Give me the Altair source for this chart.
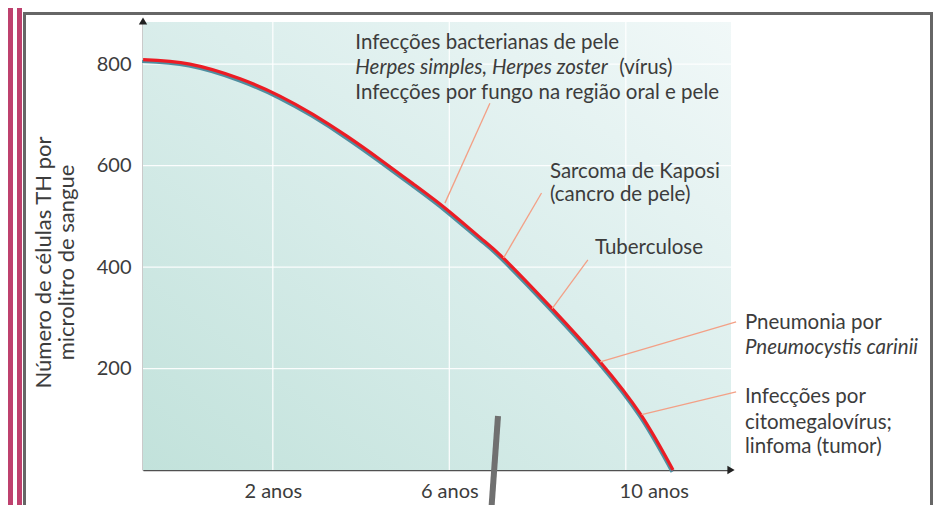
import altair as alt
import pandas as pd

# ---------------- data ----------------
years = [-0.94, 0.12, 1.26, 2.16, 2.91, 3.68, 4.43, 5.18, 5.95, 6.70, 7.22, 8.33, 9.42, 10.34, 11.07]
cells = [809, 800, 771, 737, 701, 658, 612, 564, 513, 458, 418, 318, 213, 109, 0]

x_ticks = [2, 6, 10]
y_ticks = [200, 400, 600, 800]
x_domain = [-0.942, 12.384]
y_domain = [0, 883]

# leader lines (start on curve, end near label)
leader_id = ["bact", "bact", "kap", "kap", "tb", "tb", "pcp", "pcp", "cmv", "cmv"]
leader_x = [5.90, 6.92, 7.23, 8.09, 8.33, 9.14, 9.42, 12.50, 10.36, 12.50]
leader_y = [526, 723, 418, 546, 318, 414, 213, 292, 109, 154]

label_text = [
    "Infecções bacterianas de pele",
    "Herpes simples, Herpes zoster",
    "(vírus)",
    "Infecções por fungo na região oral e pele",
    "Sarcoma de Kaposi",
    "(cancro de pele)",
    "Tuberculose",
    "Pneumonia por",
    "Pneumocystis carinii",
    "Infecções por",
    "citomegalovírus;",
    "linfoma (tumor)",
]
label_x = [3.87, 3.87, 9.85, 3.87, 8.28, 8.28, 9.30, 12.70, 12.70, 12.70, 12.70, 12.70]
label_y = [841, 792, 792, 743, 587, 542, 437, 290, 240, 144, 93, 45]
label_italic = [False, True, False, False, False, False, False, False, True, False, False, False]

y_title = ["Número de células TH por", "microlitro de sangue"]

# ---------------- styling ----------------
FONT = "Lato"
TXT = "#3c3c3c"
AXIS = "#505050"
RED = "#ec1c24"
SHADOW = "#4f8ea0"
LEADER = "#f3a086"
PINK = "#be416e"
FRAME = "#666666"

curve = pd.DataFrame({"x": years, "y": cells})
leaders = pd.DataFrame({"id": leader_id, "x": leader_x, "y": leader_y})
labels = pd.DataFrame({"x": label_x, "y": label_y, "text": label_text, "italic": label_italic})
xgrid = pd.DataFrame({"x": x_ticks})
ygrid = pd.DataFrame({"y": y_ticks})
one = pd.DataFrame({"a": [0]})

xscale = alt.Scale(domain=x_domain, nice=False, zero=False)
yscale = alt.Scale(domain=y_domain, nice=False, zero=False)

xaxis = alt.Axis(
    values=x_ticks, labelExpr="datum.value + ' anos'", title=None, grid=False, ticks=False,
    domainColor=AXIS, domainWidth=1.6, labelFont=FONT, labelFontSize=20, labelColor=TXT,
    labelPadding=11,
    labelOffset={"condition": {"test": "datum.value == 10", "value": 28}, "value": 0},
)
yaxis = alt.Axis(
    values=y_ticks, title=y_title, grid=False, ticks=False,
    domainColor=AXIS, domainWidth=1.6, labelFont=FONT, labelFontSize=20, labelColor=TXT,
    labelPadding=12, titleFont=FONT, titleFontSize=22, titleFontWeight="normal",
    titleColor=TXT, titleAngle=270, titleX=-100, titleY=240, titleAlign="center",
    titleBaseline="middle", titleLineHeight=23,
)

X = alt.X("x:Q", scale=xscale, axis=xaxis)
Y = alt.Y("y:Q", scale=yscale, axis=yaxis)

gradient = {
    "gradient": "linear",
    "x1": 0, "y1": 1, "x2": 1, "y2": 0,
    "stops": [
        {"offset": 0, "color": "#c2e2db"},
        {"offset": 0.55, "color": "#dbeeec"},
        {"offset": 1, "color": "#f1f8f8"},
    ],
}

background = alt.Chart(one).mark_rect(fill=gradient).encode(
    x=alt.value(0), x2=alt.value("width"), y=alt.value(0), y2=alt.value("height")
)

vgrid = alt.Chart(xgrid).mark_rule(color="white", strokeWidth=1.3, opacity=0.9).encode(x=X)
hgrid = alt.Chart(ygrid).mark_rule(color="white", strokeWidth=1.3, opacity=0.9).encode(y=Y)

shadow = alt.Chart(curve).mark_line(
    color=SHADOW, strokeWidth=3, interpolate="natural", yOffset=2, xOffset=-1
).encode(x=X, y=Y)
line = alt.Chart(curve).mark_line(
    color=RED, strokeWidth=3.2, interpolate="natural"
).encode(x=X, y=Y)

leader_lines = alt.Chart(leaders).mark_line(color=LEADER, strokeWidth=1.3).encode(
    x=X, y=Y, detail="id:N"
)

text_normal = alt.Chart(labels).transform_filter("!datum.italic").mark_text(
    align="left", baseline="middle", font=FONT, fontSize=20.5, color=TXT
).encode(x=X, y=Y, text="text:N")
text_italic = alt.Chart(labels).transform_filter("datum.italic").mark_text(
    align="left", baseline="middle", font=FONT, fontSize=20.5, color=TXT, fontStyle="italic"
).encode(x=X, y=Y, text="text:N")

arrow_up = alt.Chart(one).mark_point(
    shape="triangle-up", filled=True, color="#222222", size=70, opacity=1
).encode(x=alt.value(0), y=alt.value(-1))
arrow_right = alt.Chart(one).mark_point(
    shape="triangle-right", filled=True, color="#222222", size=70, opacity=1
).encode(x=alt.value("width"), y=alt.value("height"))

# ---------------- decorative frame of the original picture ----------------
pink1 = alt.Chart(one).mark_rect(color=PINK).encode(
    x=alt.value(-135), x2=alt.value(-130), y=alt.value(-14), y2=alt.value(483)
)
pink2 = alt.Chart(one).mark_rect(color=PINK).encode(
    x=alt.value(-126), x2=alt.value(-121), y=alt.value(-14), y2=alt.value(483)
)
frame = alt.Chart(one).mark_rect(fillOpacity=0, stroke=FRAME, strokeWidth=3).encode(
    x=alt.value(-118.5), x2=alt.value(788.5), y=alt.value(-8.5), y2=alt.value(487)
)
pointer = alt.Chart(one).mark_rule(color="#707070", strokeWidth=6).encode(
    x=alt.value(355), y=alt.value(394), x2=alt.value(348.6), y2=alt.value(484)
)

chart = alt.layer(
    background, vgrid, hgrid, shadow, line, leader_lines, text_normal, text_italic,
    arrow_up, arrow_right, pink1, pink2, frame, pointer
).properties(
    width=588, height=448,
    autosize=alt.AutoSizeParams(type="none"),
    padding={"left": 135, "top": 14, "right": 202, "bottom": 35},
    background="white",
).configure_view(stroke=None)

chart.save("out.html", embed_options={"renderer": "svg", "actions": False})
